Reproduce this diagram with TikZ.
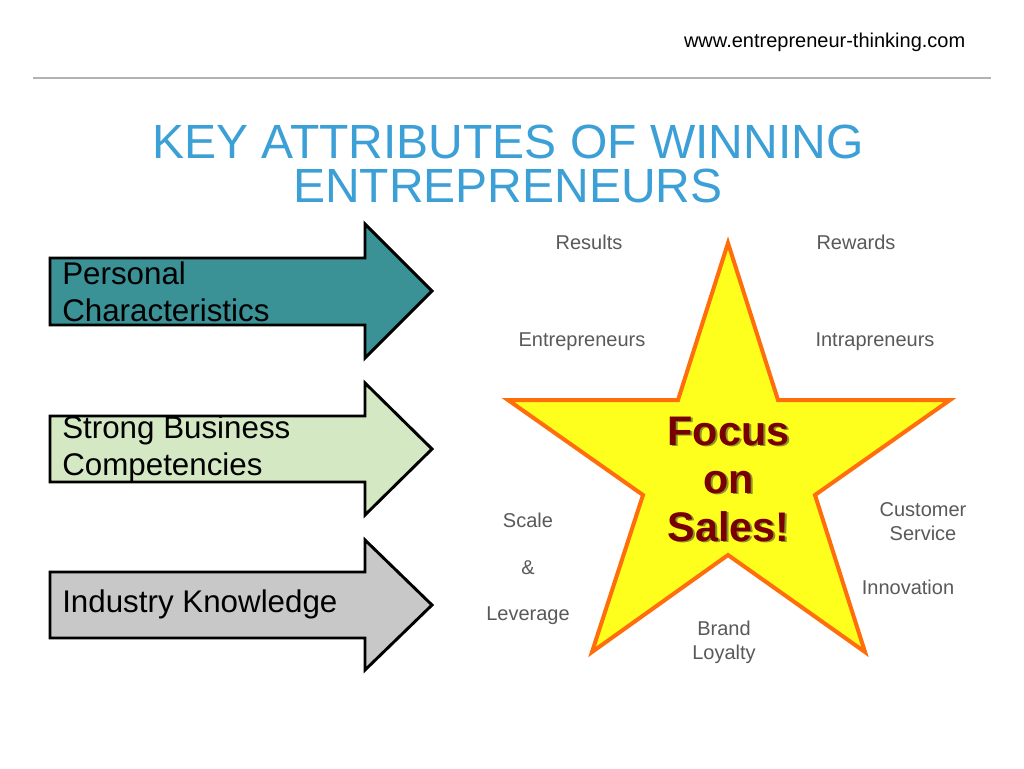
\documentclass[tikz,border=0pt]{standalone}
\usepackage{fontspec}
\setmainfont{Liberation Sans}
\begin{document}
\begin{tikzpicture}[x=0.75pt,y=-0.75pt,
  lbl/.style={font=\fontsize{15}{18}\selectfont,text=black!65,align=center},
  big/.style={font=\fontsize{23.5}{28}\selectfont,align=left,anchor=west,inner sep=0pt},
  arr/.style={draw=black,line width=2.2pt,line join=miter}]
\useasboundingbox (0,0) rectangle (1024,768);
\fill[white] (0,0) rectangle (1024,768);
\node[font=\fontsize{15}{18}\selectfont,anchor=east] (url) at (970,42) {www.entrepreneur-thinking.com};
\draw[black!30,line width=1.8pt] (33,78) -- (991,78);
\node[font=\fontsize{36}{33}\selectfont,text={rgb,255:red,60;green,160;blue,215},align=center] (title) at (508,164) {KEY ATTRIBUTES OF WINNING\\ENTREPRENEURS};
% arrows
\draw[arr,fill={rgb,255:red,58;green,145;blue,150}] (50,258) -- (365,258) -- (365,224) -- (432,291) -- (365,358) -- (365,325) -- (50,325) -- cycle;
\draw[arr,fill={rgb,255:red,213;green,232;blue,196}] (50,416) -- (365,416) -- (365,383) -- (432,449) -- (365,515) -- (365,482) -- (50,482) -- cycle;
\draw[arr,fill={rgb,255:red,200;green,200;blue,200}] (50,572) -- (365,572) -- (365,540) -- (432,605) -- (365,670) -- (365,638) -- (50,638) -- cycle;
\node[big] (pc) at (62,292) {Personal\\Characteristics};
\node[big] (sb) at (62,449) {Strong Business\\Competencies};
\node[big] (ik) at (62,604) {Industry Knowledge};
% star
\draw[line width=3pt,draw={rgb,255:red,255;green,110;blue,10},fill={rgb,255:red,255;green,255;blue,30},line join=miter]
 (728,243) -- (778,400) -- (950,400) -- (815,495) -- (865,652) -- (728,555) -- (592,652) -- (643,495) -- (508,400) -- (678,400) -- cycle;
\begin{scope}[font=\fontsize{31}{36}\selectfont\bfseries,align=center]
\node[text={rgb,255:red,140;green,150;blue,40}] at (730.5,480.5) {Focus\\on\\Sales!};
\node[text={rgb,255:red,120;green,0;blue,0}] (focus) at (728.5,479) {Focus\\on\\Sales!};
\end{scope}
\node[lbl] (res) at (589,242) {Results};
\node[lbl] (rew) at (856,242) {Rewards};
\node[lbl] (ent) at (582,342) {Entrepreneurs};
\node[lbl] (intr) at (875,342) {Intrapreneurs};
\node[lbl] (sc) at (528,520) {Scale};
\node[lbl] (amp) at (528,568) {\&};
\node[lbl] (lev) at (528,616) {Leverage};
\node[lbl] (cs) at (923,522) {Customer\\Service};
\node[lbl] (inn) at (908,587) {Innovation};
\node[lbl] (bl) at (724,642) {Brand\\Loyalty};
\end{tikzpicture}
\end{document}
